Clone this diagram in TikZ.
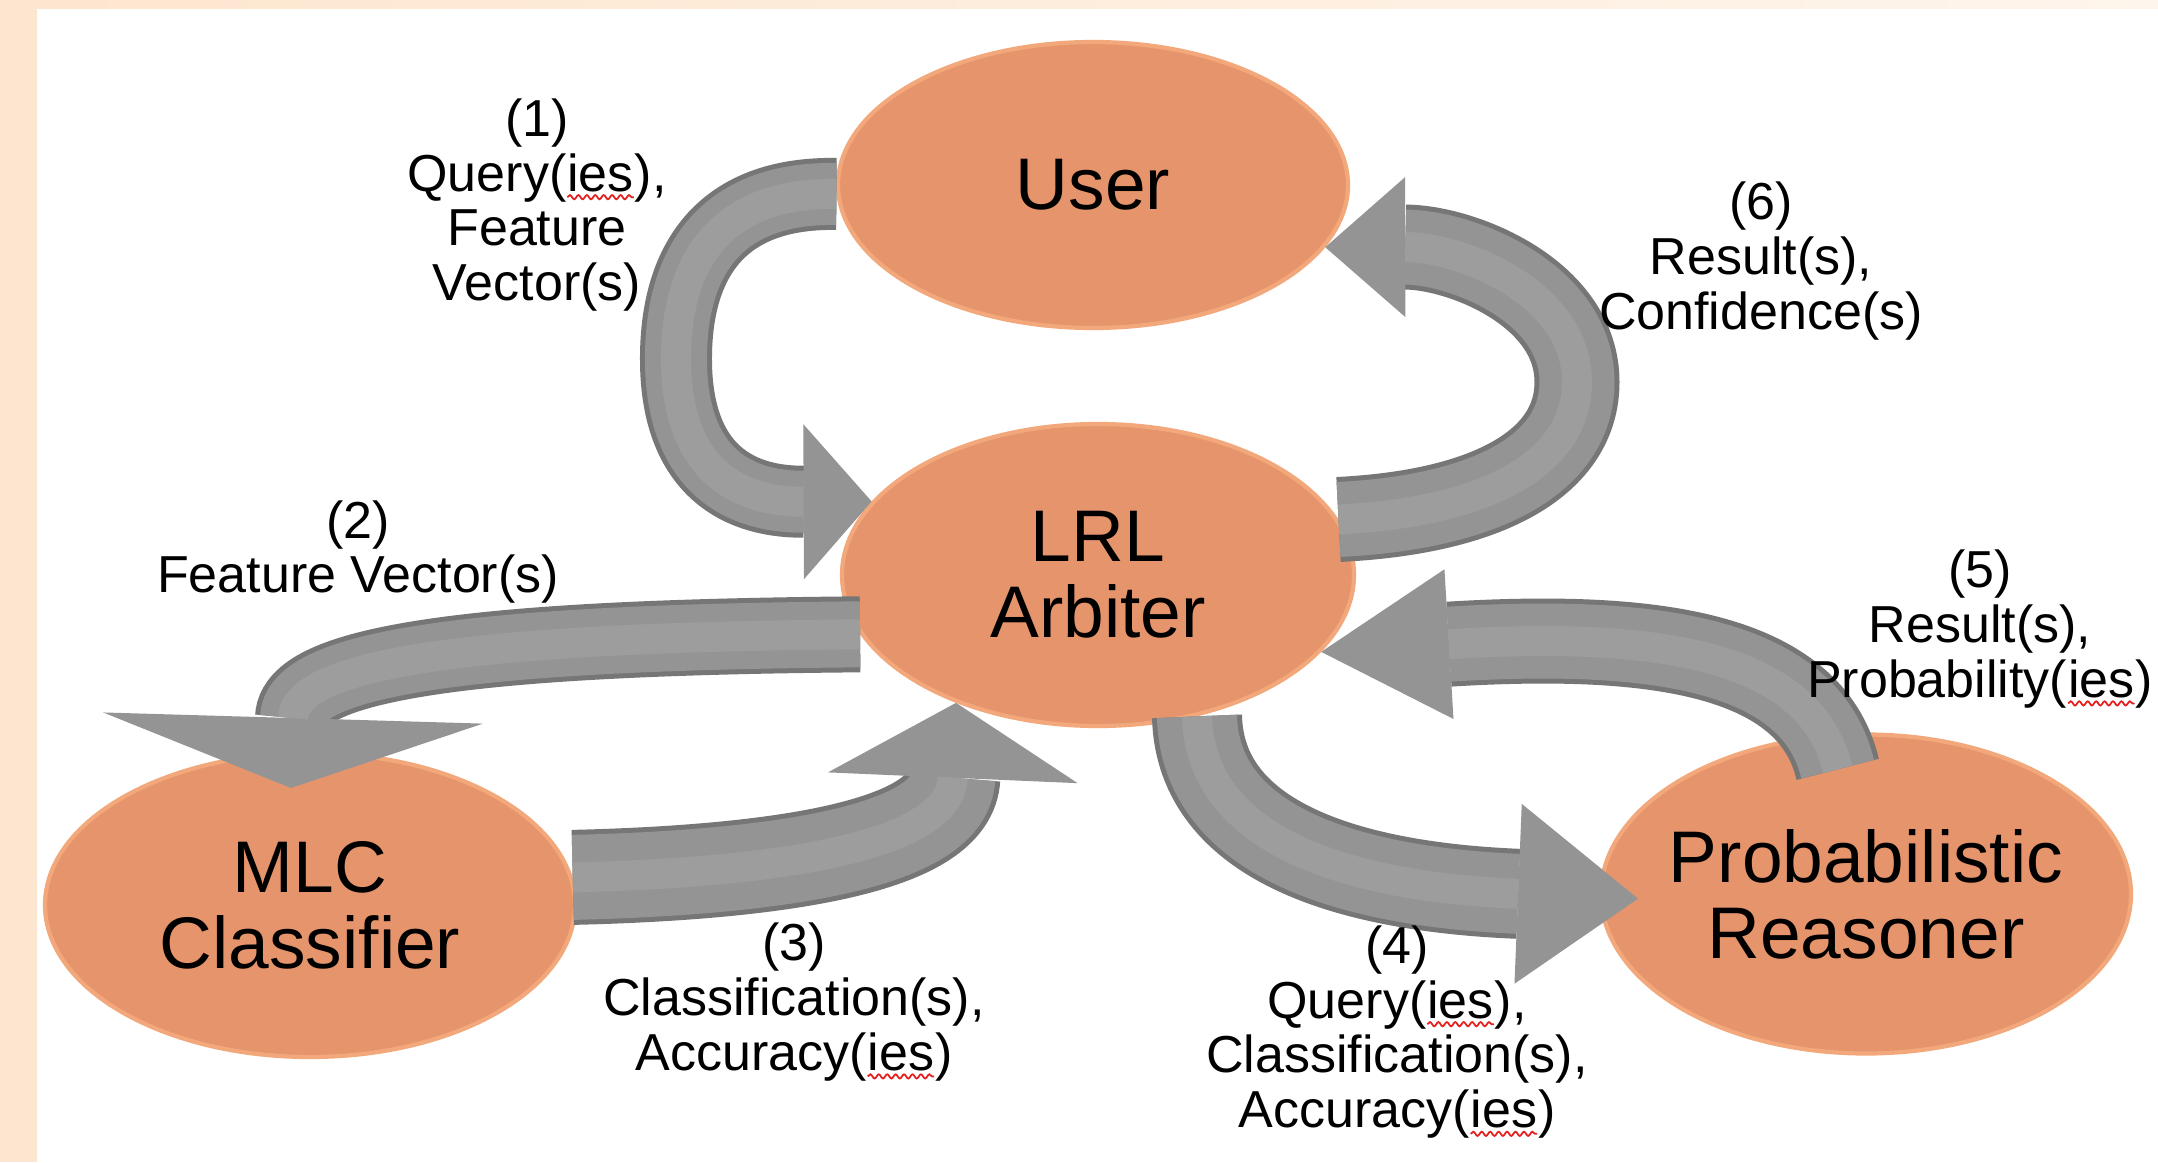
\documentclass[tikz,border=0pt]{standalone}
\usepackage{fontspec}
\setmainfont{Liberation Sans}
\usetikzlibrary{arrows.meta,shapes.geometric,decorations.pathmorphing}
\definecolor{pchBg}{RGB}{253,230,207}
\definecolor{pchFade}{RGB}{254,245,236}
\definecolor{blobFill}{RGB}{230,148,108}
\definecolor{blobRim}{RGB}{242,168,122}
\definecolor{tubeDark}{RGB}{118,118,118}
\definecolor{tubeMid}{RGB}{148,148,148}
\definecolor{tubeLight}{RGB}{157,157,157}
\definecolor{spellRed}{RGB}{230,30,30}
% red wavy mark under flagged words
\newcommand{\spell}[1]{\tikz[baseline=(sw.base)]{%
  \node[inner sep=0pt, outer sep=0pt] (sw) {#1};
  \draw[spellRed, line width=0.5pt, decorate,
        decoration={snake, amplitude=0.6pt, segment length=2.4pt}]
    ([yshift=-1.6pt]sw.south west) -- ([yshift=-1.6pt]sw.south east);}}

\begin{document}
\begin{tikzpicture}[
  x=1cm, y=1cm,
  blob/.style={ellipse, fill=blobFill, draw=blobRim, line width=1.2pt,
               inner sep=0pt, inner xsep=-3mm, align=center,
               font=\fontsize{20.8}{21.6}\selectfont},
  lbl/.style={align=center, font=\fontsize{14.8}{15.6}\selectfont},
]
\useasboundingbox (0,0) rectangle (21.58,11.62);

% Tube arrow: shaft width, inner width, tip length, tip width, path.
\newcommand{\tube}[5]{%
  \draw[draw=tubeDark, line width=#1cm,
        -{Triangle[length=#3cm, width=#4cm, line width=0pt, color=tubeMid]}] #5;
  \draw[draw=tubeMid, line width=#2cm, shorten >=#3cm] #5;
  \draw[draw=tubeLight, line width=0.3cm, shorten >=#3cm] #5;
}

% ---------------- frame ----------------
\fill[pchBg] (0,0) rectangle (21.58,11.62);
\shade[left color=pchBg, right color=pchFade] (0.37,11.53) rectangle (21.58,11.62);
\fill[white] (0.37,0) rectangle (21.58,11.53);

% ---------------- components ----------------
\node[blob, minimum width=5.10cm, minimum height=2.86cm] (user) at (10.93,9.77) {User};
\node[blob, minimum width=5.12cm, minimum height=3.02cm] (lrl) at (10.98,5.87) {LRL\\Arbiter};
\node[blob, minimum width=5.30cm, minimum height=3.04cm] (mlc) at (3.10,2.57) {MLC\\Classifier};
\node[blob, minimum width=5.30cm, minimum height=3.19cm] (pr) at (18.66,2.68) {Probabilistic\\Reasoner};

\coordinate (mlcTop) at ([shift={(-0.19,1.17)}]mlc.center);
\coordinate (prIn) at ([xshift=3.9mm]pr.181);
\coordinate (prTop) at ([yshift=-3.6mm]pr.100);

% ---------------- flows ----------------
\tube{0.72}{0.62}{0.68}{1.55}{(user.182) .. controls (7.2,9.7) and (6.75,9.0) .. (6.76,8.0)
  .. controls (6.77,7.0) and (7.3,6.6) .. (lrl.162)}
\tube{0.76}{0.66}{0.70}{3.80}{(lrl.194) .. controls (5.6,5.25) and (2.95,5.1) .. (mlcTop)}
\tube{0.95}{0.85}{0.75}{2.50}{(mlc.6) .. controls (8.0,2.9) and (9.5,3.2) .. (lrl.222)}
\tube{0.90}{0.80}{1.20}{1.80}{(lrl.305) .. controls (12.0,3.2) and (13.5,2.75) .. (prIn)}
\tube{0.85}{0.75}{1.28}{1.50}{(prTop) .. controls (18.1,5.1) and (16.5,5.3) .. (lrl.341)}
\tube{0.85}{0.75}{0.80}{1.40}{(lrl.13) .. controls (14.9,6.5) and (15.77,7.0) .. (15.77,7.8)
  .. controls (15.77,8.7) and (14.6,9.15) .. (user.345)}

% ---------------- labels ----------------
\node[lbl] (l1) at (5.37,9.57) {(1)\\Query(\spell{ies}),\\Feature\\Vector(s)};
\node[lbl] (l2) at (3.58,6.10) {(2)\\Feature Vector(s)};
\node[lbl] (l3) at (7.94,1.60) {(3)\\Classification(s),\\Accuracy(\spell{ies})};
\node[lbl] (l4) at (13.97,1.30) {(4)\\Query(\spell{ies}),\\Classification(s),\\Accuracy(\spell{ies})};
\node[lbl] (l5) at (19.80,5.33) {(5)\\Result(s),\\Probability(\spell{ies})};
\node[lbl] (l6) at (17.61,9.01) {(6)\\Result(s),\\Confidence(s)};
\end{tikzpicture}
\end{document}
